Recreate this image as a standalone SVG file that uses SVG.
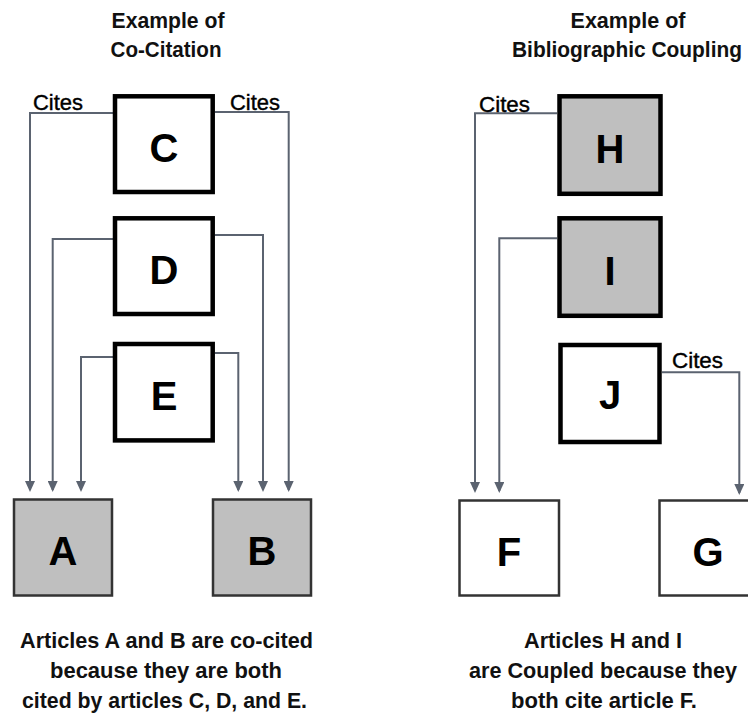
<svg xmlns="http://www.w3.org/2000/svg" width="748" height="714" viewBox="0 0 748 714">
<style>
  .bg{fill:#ffffff}
  .conn{fill:none;stroke:#5b6370;stroke-width:2;marker-end:url(#arr)}
  .top{fill:#ffffff;stroke:#000000;stroke-width:4.5}
  .topg{fill:#bfbfbf;stroke:#000000;stroke-width:4.5}
  .bot{fill:#ffffff;stroke:#333333;stroke-width:2.5}
  .botg{fill:#bfbfbf;stroke:#333333;stroke-width:2.5}
  .letter{font-family:"Liberation Sans",Arial,sans-serif;font-weight:bold;font-size:40px;fill:#000;text-anchor:middle}
  .head{font-family:"Liberation Sans",Arial,sans-serif;font-weight:bold;font-size:21.5px;fill:#111;text-anchor:middle}
  .cites{font-family:"Liberation Sans",Arial,sans-serif;font-size:21.5px;fill:#000;stroke:#000;stroke-width:0.4}
</style>
<defs>
  <marker id="arr" markerUnits="userSpaceOnUse" viewBox="0 0 11 10" refX="9" refY="5" markerWidth="11" markerHeight="10" orient="auto">
    <path d="M0,0 L11,5 L0,10 z" fill="#5b6370"/>
  </marker>
</defs>
<rect class="bg" x="0" y="0" width="748" height="714"/>

<g id="headings">
  <text class="head" x="168" y="28" textLength="113" lengthAdjust="spacingAndGlyphs">Example of</text>
  <text class="head" x="166" y="57" textLength="111" lengthAdjust="spacingAndGlyphs">Co-Citation</text>
  <text class="head" x="628" y="28" textLength="115" lengthAdjust="spacingAndGlyphs">Example of</text>
  <text class="head" x="627" y="57" textLength="230" lengthAdjust="spacingAndGlyphs">Bibliographic  Coupling</text>
</g>

<g id="connectors">
  <path class="conn" d="M113,113 H30 V490"/>
  <path class="conn" d="M215,112 H288.7 V490"/>
  <path class="conn" d="M113,239 H52.7 V490"/>
  <path class="conn" d="M215,235 H263 V490"/>
  <path class="conn" d="M113,357 H81 V490"/>
  <path class="conn" d="M215,353 H238.3 V490"/>
  <path class="conn" d="M557,113.3 H475 V491"/>
  <path class="conn" d="M557,238.3 H499.3 V491"/>
  <path class="conn" d="M662,372.3 H739.3 V493"/>
  <text class="cites" x="33" y="110" textLength="50" lengthAdjust="spacingAndGlyphs">Cites</text>
  <text class="cites" x="230" y="110" textLength="50" lengthAdjust="spacingAndGlyphs">Cites</text>
  <text class="cites" x="479" y="111.5" textLength="51" lengthAdjust="spacingAndGlyphs">Cites</text>
  <text class="cites" x="672" y="368" textLength="51" lengthAdjust="spacingAndGlyphs">Cites</text>
</g>

<g id="node-C">
  <rect class="top" x="115" y="96.3" width="97.7" height="95.7"/>
  <text class="letter" x="164" y="162">C</text>
</g>
<g id="node-D">
  <rect class="top" x="115" y="218.3" width="97.7" height="95.7"/>
  <text class="letter" x="164" y="284">D</text>
</g>
<g id="node-E">
  <rect class="top" x="115" y="344" width="97.7" height="96.4"/>
  <text class="letter" x="164" y="410">E</text>
</g>
<g id="node-A">
  <rect class="botg" x="14" y="499.5" width="98" height="96"/>
  <text class="letter" x="63" y="565">A</text>
</g>
<g id="node-B">
  <rect class="botg" x="213" y="499.5" width="98" height="96"/>
  <text class="letter" x="262" y="565">B</text>
</g>
<g id="node-H">
  <rect class="topg" x="559.5" y="96.3" width="101" height="97.5"/>
  <text class="letter" x="610" y="163">H</text>
</g>
<g id="node-I">
  <rect class="topg" x="559.5" y="218.3" width="101" height="97.5"/>
  <text class="letter" x="610" y="285">I</text>
</g>
<g id="node-J">
  <rect class="top" x="560.5" y="345" width="99" height="97"/>
  <text class="letter" x="610" y="409">J</text>
</g>
<g id="node-F">
  <rect class="bot" x="459.5" y="500.5" width="99.5" height="95"/>
  <text class="letter" x="509" y="566">F</text>
</g>
<g id="node-G">
  <rect class="bot" x="659.5" y="500.5" width="99" height="95"/>
  <text class="letter" x="708" y="566">G</text>
</g>

<g id="captions">
  <text class="head" x="166.5" y="648" textLength="293" lengthAdjust="spacingAndGlyphs">Articles A and B are co-cited</text>
  <text class="head" x="166" y="678" textLength="232" lengthAdjust="spacingAndGlyphs">because they are both</text>
  <text class="head" x="164.5" y="708" textLength="285" lengthAdjust="spacingAndGlyphs">cited by articles C, D, and E.</text>
  <text class="head" x="603" y="648" textLength="158" lengthAdjust="spacingAndGlyphs">Articles H and I</text>
  <text class="head" x="603" y="678" textLength="268" lengthAdjust="spacingAndGlyphs">are Coupled  because they</text>
  <text class="head" x="604" y="708" textLength="186" lengthAdjust="spacingAndGlyphs">both cite article F.</text>
</g>
</svg>
